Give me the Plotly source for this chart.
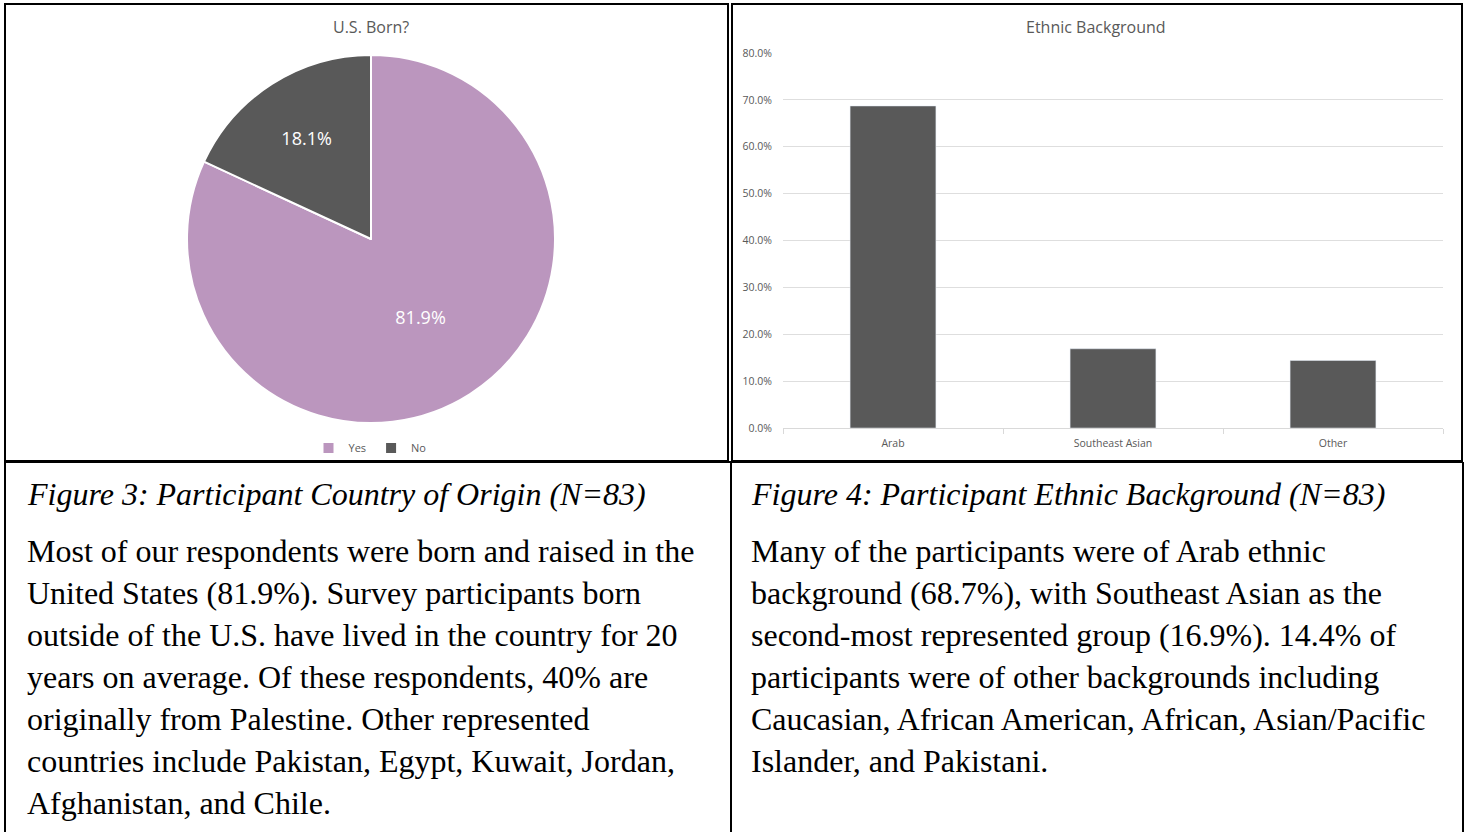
import plotly.graph_objects as go

W, H = 1466, 832

# ---- data ----
pie_labels = ["Yes", "No"]
pie_values = [81.9, 18.1]
pie_colors = ["#BB96BE", "#595959"]

bar_categories = ["Arab", "Southeast Asian", "Other"]
bar_values = [68.7, 16.9, 14.4]
bar_color = "#595959"

pie_title = "U.S. Born?"
bar_title = "Ethnic Background"

left_caption = "Figure 3: Participant Country of Origin (N=83)"
right_caption = "Figure 4: Participant Ethnic Background (N=83)"
left_lines = [
    "Most of our respondents were born and raised in the",
    "United States (81.9%). Survey participants born",
    "outside of the U.S. have lived in the country for 20",
    "years on average. Of these respondents, 40% are",
    "originally from Palestine. Other represented",
    "countries include Pakistan, Egypt, Kuwait, Jordan,",
    "Afghanistan, and Chile.",
]
right_lines = [
    "Many of the participants were of Arab ethnic",
    "background (68.7%), with Southeast Asian as the",
    "second-most represented group (16.9%). 14.4% of",
    "participants were of other backgrounds including",
    "Caucasian, African American, African, Asian/Pacific",
    "Islander, and Pakistani.",
]


def px(x):
    return x / W


def py(y):
    return 1 - y / H


CHART_FONT = "Open Sans"
SERIF = "Liberation Serif, Times New Roman, serif"

fig = go.Figure()

fig.add_trace(go.Pie(
    labels=pie_labels, values=pie_values, sort=False, direction="clockwise",
    rotation=0, marker=dict(colors=pie_colors, line=dict(color="white", width=2)),
    texttemplate="%{value:.1f}%", textposition="inside",
    insidetextorientation="horizontal",
    textfont=dict(color="white", size=18, family=CHART_FONT),
    domain=dict(x=[px(187), px(555)], y=[py(423), py(55)]),
    hoverinfo="label+percent", showlegend=True,
))

fig.add_trace(go.Bar(
    x=bar_categories, y=bar_values, marker=dict(color=bar_color),
    xaxis="x", yaxis="y", showlegend=False,
))

fig.update_layout(
    width=W, height=H, margin=dict(l=0, r=0, t=0, b=0, pad=0, autoexpand=False),
    paper_bgcolor="white", plot_bgcolor="white",
    bargap=0.61,
    xaxis=dict(domain=[px(783), px(1443)], showgrid=False, showline=True,
               linecolor="#D9D9D9", linewidth=1, ticks="outside", ticklen=5,
               tickcolor="#D9D9D9", tickson="boundaries", automargin=False,
               ticklabelstandoff=5,
               tickfont=dict(size=10.5, color="#595959", family=CHART_FONT),
               fixedrange=True),
    yaxis=dict(domain=[py(428), py(53)], range=[0, 80], dtick=10,
               tickformat=".1f", ticksuffix="%", showgrid=True,
               gridcolor="#DEDEDE", gridwidth=1, zeroline=False, automargin=False,
               tickfont=dict(size=10.5, color="#595959", family=CHART_FONT),
               ticklabelstandoff=10, fixedrange=True),
    legend=dict(orientation="h", x=px(370), y=py(448), xanchor="center",
                yanchor="middle", bgcolor="rgba(0,0,0,0)",
                font=dict(size=11, color="#595959", family=CHART_FONT),
                itemwidth=30, tracegroupgap=0),
    showlegend=True,
)

# titles
fig.add_annotation(text=pie_title, x=px(371), y=py(27), xref="paper", yref="paper",
                   showarrow=False, font=dict(size=16, color="#595959", family=CHART_FONT),
                   xanchor="center", yanchor="middle")
fig.add_annotation(text=bar_title, x=px(1096), y=py(27), xref="paper", yref="paper",
                   showarrow=False, font=dict(size=16, color="#595959", family=CHART_FONT),
                   xanchor="center", yanchor="middle")

# captions
CAP_Y = 494
FS = 32
LX, RX = 25, 749
fig.add_annotation(text="<i>" + left_caption + "</i>", x=px(LX), y=py(CAP_Y),
                   xref="paper", yref="paper", showarrow=False, xanchor="left",
                   yanchor="middle", font=dict(size=FS, color="black", family=SERIF))
fig.add_annotation(text="<i>" + right_caption + "</i>", x=px(RX), y=py(CAP_Y),
                   xref="paper", yref="paper", showarrow=False, xanchor="left",
                   yanchor="middle", font=dict(size=FS, color="black", family=SERIF))

LINE0, LH = 551, 42
for i, t in enumerate(left_lines):
    fig.add_annotation(text=t, x=px(LX), y=py(LINE0 + i * LH), xref="paper",
                       yref="paper", showarrow=False, xanchor="left", yanchor="middle",
                       font=dict(size=FS, color="black", family=SERIF))
for i, t in enumerate(right_lines):
    fig.add_annotation(text=t, x=px(RX), y=py(LINE0 + i * LH), xref="paper",
                       yref="paper", showarrow=False, xanchor="left", yanchor="middle",
                       font=dict(size=FS, color="black", family=SERIF))

# borders
shapes = []
def rect(x0, y0, x1, y1, w=2, c="black"):
    shapes.append(dict(type="rect", xref="paper", yref="paper",
                       x0=px(x0), x1=px(x1), y0=py(y1), y1=py(y0),
                       line=dict(color=c, width=w), fillcolor="rgba(0,0,0,0)"))

def line(x0, y0, x1, y1, w=2, c="black"):
    shapes.append(dict(type="line", xref="paper", yref="paper",
                       x0=px(x0), x1=px(x1), y0=py(y0), y1=py(y1),
                       line=dict(color=c, width=w)))

rect(5, 4, 728, 461)
rect(732, 4, 1462, 461)
line(5, 462, 1463, 462)
line(5, 462, 5, 832)
line(731, 462, 731, 832)
line(1463, 462, 1463, 832)
fig.update_layout(shapes=shapes)

fig.write_html(
    "out.html",
    config={"displayModeBar": False},
    post_script="document.body.style.margin='0';",
)
